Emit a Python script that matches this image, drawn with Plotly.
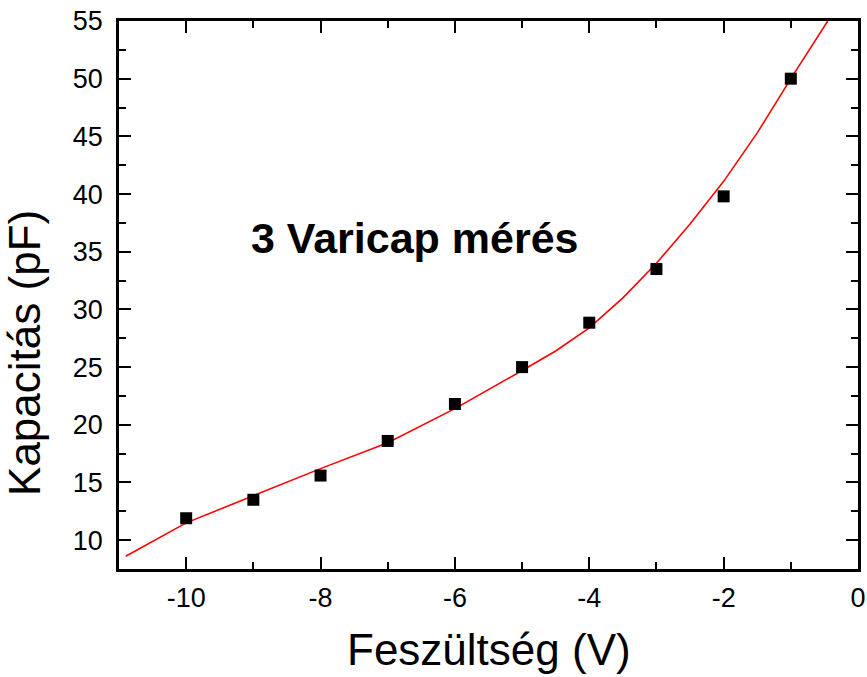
import plotly.graph_objects as go

# Measured varicap capacitance vs. reverse voltage
voltage = [-10, -9, -8, -7, -6, -5, -4, -3, -2, -1]
capacitance = [11.9, 13.5, 15.6, 18.6, 21.8, 25.0, 28.85, 33.5, 39.8, 50.0]

# Fitted curve through the measurements
fit_voltage = [-10.9, -10, -9, -8, -7, -6, -5, -4.5, -4, -3.5, -3, -2.5, -2, -1.5, -1, -0.45]
fit_capacitance = [8.6, 11.5, 13.85, 16.2, 18.45, 21.4, 24.7, 26.4, 28.4, 31.0, 34.0, 37.4, 41.1, 45.3, 50.0, 55.0]

x_ticks = [-10, -8, -6, -4, -2, 0]
y_ticks = [10, 15, 20, 25, 30, 35, 40, 45, 50, 55]

FONT = "Liberation Sans, Arial, sans-serif"

fig = go.Figure()
fig.add_trace(go.Scatter(
    x=fit_voltage, y=fit_capacitance, mode="lines",
    line=dict(color="#ff0000", width=1.6), showlegend=False,
))
fig.add_trace(go.Scatter(
    x=voltage, y=capacitance, mode="markers",
    marker=dict(symbol="square", size=12, color="black"), showlegend=False,
))

axis_common = dict(
    showline=True, linecolor="black", linewidth=2.5, mirror="allticks",
    ticks="inside", ticklen=12, tickwidth=2, tickcolor="black",
    showgrid=False, zeroline=False, automargin=False,
    tickfont=dict(family=FONT, size=27, color="black"),
)

fig.update_xaxes(
    range=[-11, 0], tickvals=x_ticks, ticktext=[str(v) for v in x_ticks],
    minor=dict(dtick=1, tick0=0, ticks="inside", ticklen=7, tickwidth=2, tickcolor="black"),
    ticklabelstandoff=3,
    **axis_common,
)
fig.update_yaxes(
    range=[7.5, 55], tickvals=y_ticks, ticktext=[str(v) for v in y_ticks],
    minor=dict(dtick=2.5, tick0=0, ticks="inside", ticklen=7, tickwidth=2, tickcolor="black"),
    ticklabelstandoff=8,
    **axis_common,
)

fig.add_annotation(
    x=-6.6, y=36.2, xref="x", yref="y", text="<b>3 Varicap mérés</b>",
    showarrow=False, font=dict(family=FONT, size=43, color="black"),
)
fig.add_annotation(
    x=0.5, y=-0.147, xref="paper", yref="paper", text="Feszültség (V)",
    showarrow=False, xanchor="center", yanchor="middle",
    font=dict(family=FONT, size=44, color="black"),
)
fig.add_annotation(
    x=-0.128, y=0.395, xref="paper", yref="paper", text="Kapacitás (pF)",
    showarrow=False, textangle=-90, xanchor="center", yanchor="middle",
    font=dict(family=FONT, size=44, color="black"),
)

fig.update_layout(
    width=867, height=677,
    margin=dict(l=119, r=9, t=21, b=108),
    plot_bgcolor="white", paper_bgcolor="white",
    font=dict(family=FONT, color="black"),
)

fig.write_html("out.html")
